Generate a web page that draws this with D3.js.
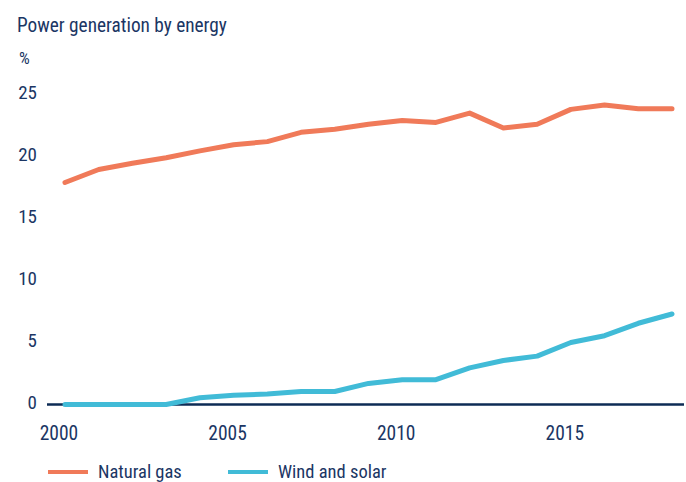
<!DOCTYPE html>
<html>
<head>
<meta charset="utf-8">
<script src="https://cdn.jsdelivr.net/npm/d3@7"></script>
<style>
  body { margin: 0; background: #fff; }
  svg text { font-family: "Liberation Sans Narrow", "Roboto Condensed", "DejaVu Sans Condensed", sans-serif; fill: #1b3664; }
</style>
</head>
<body>
<div id="chart"></div>
<script>
var width = 686, height = 482;

var years = [2000, 2001, 2002, 2003, 2004, 2005, 2006, 2007, 2008, 2009,
             2010, 2011, 2012, 2013, 2014, 2015, 2016, 2017, 2018];
var naturalGas = [17.9, 18.95, 19.45, 19.9, 20.45, 20.95, 21.2, 21.95, 22.2, 22.6,
                  22.9, 22.75, 23.5, 22.3, 22.6, 23.8, 24.15, 23.85, 23.85];
var windSolar = [0, 0, 0, 0, 0.55, 0.75, 0.85, 1.05, 1.05, 1.7,
                 2.0, 2.0, 2.95, 3.55, 3.9, 5.0, 5.55, 6.55, 7.3];
var yTicks = [0, 5, 10, 15, 20, 25];
var xTicks = [2000, 2005, 2010, 2015];
var seriesNames = ["Natural gas", "Wind and solar"];
var seriesColors = ["#f07a59", "#41bbd7"];

var x = d3.scaleLinear().domain([2000, 2018]).range([65, 672]);
var y = d3.scaleLinear().domain([0, 25]).range([404.5, 94.5]);

var svg = d3.select("#chart").append("svg")
    .attr("width", width)
    .attr("height", height);

// title and unit
svg.append("text")
    .attr("x", 17).attr("y", 32)
    .style("font-size", "19.3px")
    .text("Power generation by energy");
svg.append("text")
    .attr("x", 19).attr("y", 64)
    .style("font-size", "17px")
    .text("%");

// y tick labels
svg.selectAll(".ytick")
    .data(yTicks)
    .enter().append("text")
    .attr("class", "ytick")
    .attr("x", 37)
    .attr("y", d => y(d) + 4)
    .attr("text-anchor", "end")
    .style("font-size", "19px")
    .text(d => d);

// x tick labels
svg.selectAll(".xtick")
    .data(xTicks)
    .enter().append("text")
    .attr("class", "xtick")
    .attr("x", d => x(d) - 6)
    .attr("y", 440)
    .attr("text-anchor", "middle")
    .style("font-size", "19.5px")
    .text(d => d);

// zero line
svg.append("line")
    .attr("x1", 47).attr("x2", 684)
    .attr("y1", y(0)).attr("y2", y(0))
    .style("stroke", "#0d2b55")
    .style("stroke-width", 2.5);

var line = d3.line()
    .x(d => x(d[0]))
    .y(d => y(d[1]));

[naturalGas, windSolar].forEach(function(vals, i) {
    svg.append("path")
        .datum(years.map((yr, j) => [yr, vals[j]]))
        .attr("d", line)
        .style("fill", "none")
        .style("stroke", seriesColors[i])
        .style("stroke-width", 5)
        .style("stroke-linejoin", "round")
        .style("stroke-linecap", "round");
});

// legend
var legend = svg.selectAll(".legend")
    .data(seriesNames)
    .enter().append("g")
    .attr("class", "legend")
    .attr("transform", (d, i) => "translate(" + (48 + i * 180) + ",472)");
legend.append("line")
    .attr("x1", 0).attr("x2", 40)
    .style("stroke", (d, i) => seriesColors[i])
    .style("stroke-width", 4);
legend.append("text")
    .attr("x", 50).attr("y", 6)
    .style("font-size", "18.5px")
    .text(d => d);
</script>
</body>
</html>
